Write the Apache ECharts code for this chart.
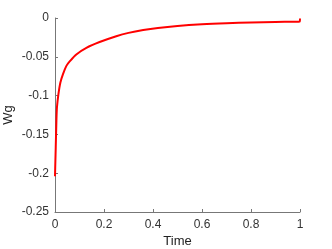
<!DOCTYPE html>
<html>
<head>
<meta charset="utf-8">
<script src="https://cdn.jsdelivr.net/npm/echarts@6/dist/echarts.min.js"></script>
<style>html,body{margin:0;padding:0;background:#fff}#c{width:332px;height:249px}</style>
</head>
<body>
<div id="c"></div>
<script>
const times = [0, 0.0015, 0.003, 0.0057, 0.008, 0.014, 0.022, 0.033, 0.046, 0.06, 0.087, 0.128, 0.182, 0.25, 0.3, 0.36, 0.42, 0.5, 0.6, 0.7, 0.8, 0.9, 0.999, 1.0];
const wg = [-0.204, -0.185, -0.167, -0.133, -0.115, -0.098, -0.083, -0.072, -0.062, -0.056, -0.047, -0.0385, -0.031, -0.0235, -0.0192, -0.0155, -0.0128, -0.0103, -0.0082, -0.0068, -0.0058, -0.0051, -0.0045, -0.0005];
const xTicks = [0, 0.2, 0.4, 0.6, 0.8, 1];
const yTicks = [0, -0.05, -0.1, -0.15, -0.2, -0.25];

const chart = echarts.init(document.getElementById('c'), null, {renderer: 'canvas'});
const font = 'Liberation Sans, Arial, sans-serif';
const fmt = v => String(parseFloat(v.toFixed(2)));
chart.setOption({
  animation: false,
  grid: {left: 55, right: 32, top: 18, bottom: 37, containLabel: false, outerBoundsMode: 'none'},
  xAxis: {
    type: 'value', min: xTicks[0], max: xTicks[xTicks.length - 1], interval: 0.2,
    name: 'Time', nameLocation: 'middle', nameGap: 23, nameMoveOverlap: false,
    nameTextStyle: {fontFamily: font, fontSize: 13, color: '#222'},
    axisLine: {onZero: false, lineStyle: {color: '#777', width: 1}},
    axisTick: {inside: true, length: 3, lineStyle: {color: '#777'}},
    axisLabel: {fontFamily: font, fontSize: 12, color: '#333', margin: 7, formatter: fmt},
    splitLine: {show: false}
  },
  yAxis: {
    type: 'value', min: yTicks[yTicks.length - 1], max: yTicks[0], interval: 0.05,
    name: 'Wg', nameLocation: 'middle', nameGap: 40, nameRotate: 90, nameMoveOverlap: false,
    nameTextStyle: {fontFamily: font, fontSize: 13, color: '#222'},
    axisLine: {show: true, onZero: false, lineStyle: {color: '#777', width: 1}},
    axisTick: {show: true, inside: true, length: 3, lineStyle: {color: '#777'}},
    axisLabel: {fontFamily: font, fontSize: 12, color: '#333', margin: 6, formatter: fmt},
    splitLine: {show: false}
  },
  series: [{
    type: 'line',
    data: times.map((t, i) => [t, wg[i]]),
    showSymbol: false,
    smooth: 0.3,
    lineStyle: {color: '#ff0000', width: 2},
    itemStyle: {color: '#ff0000'}
  }]
});
</script>
</body>
</html>
